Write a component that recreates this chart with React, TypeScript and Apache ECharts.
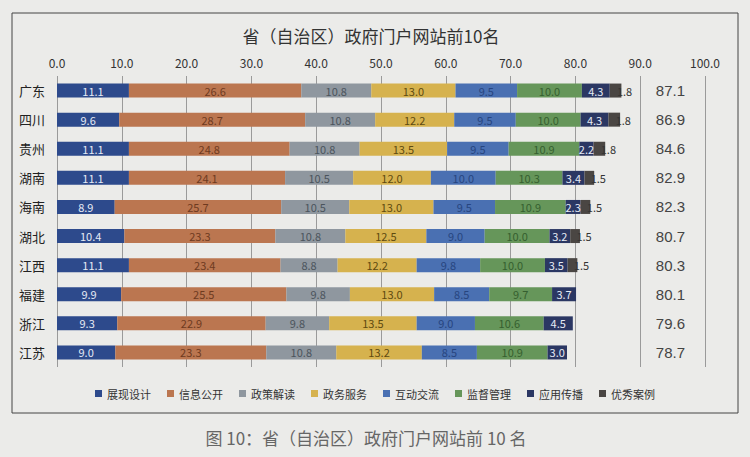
import React, { useEffect, useRef } from "react";
import * as echarts from "echarts";

const provinces = ["广东", "四川", "贵州", "湖南", "海南", "湖北", "江西", "福建", "浙江", "江苏"];
const seriesNames = ["展现设计", "信息公开", "政策解读", "政务服务", "互动交流", "监督管理", "应用传播", "优秀案例"];

const zhanxianSheji = [11.1, 9.6, 11.1, 11.1, 8.9, 10.4, 11.1, 9.9, 9.3, 9.0];
const xinxiGongkai = [26.6, 28.7, 24.8, 24.1, 25.7, 23.3, 23.4, 25.5, 22.9, 23.3];
const zhengceJiedu = [10.8, 10.8, 10.8, 10.5, 10.5, 10.8, 8.8, 9.8, 9.8, 10.8];
const zhengwuFuwu = [13.0, 12.2, 13.5, 12.0, 13.0, 12.5, 12.2, 13.0, 13.5, 13.2];
const hudongJiaoliu = [9.5, 9.5, 9.5, 10.0, 9.5, 9.0, 9.8, 8.5, 9.0, 8.5];
const jianduGuanli = [10.0, 10.0, 10.9, 10.3, 10.9, 10.0, 10.0, 9.7, 10.6, 10.9];
const yingyongChuanbo = [4.3, 4.3, 2.2, 3.4, 2.3, 3.2, 3.5, 3.7, 4.5, 3.0];
const youxiuAnli = [1.8, 1.8, 1.8, 1.5, 1.5, 1.5, 1.5, 0, 0, 0];
const totals = ["87.1", "86.9", "84.6", "82.9", "82.3", "80.7", "80.3", "80.1", "79.6", "78.7"];
const xTicks = [0, 10, 20, 30, 40, 50, 60, 70, 80, 90, 100];

const values = [zhanxianSheji, xinxiGongkai, zhengceJiedu, zhengwuFuwu, hudongJiaoliu, jianduGuanli, yingyongChuanbo, youxiuAnli];
const colors = ["#2d4a8c", "#bb7650", "#8f979f", "#d6b24e", "#4a70b2", "#66965a", "#2b3763", "#4a4643"];
const labelColors = ["#e6ebf5", "#6e3a1f", "#4b545c", "#5e4a10", "#27457f", "#355f2f", "#e6ebf5", "#333333"];

const FONT = "'Liberation Sans Narrow', 'Noto Sans CJK SC', sans-serif";
const CJK = "'Noto Sans CJK SC', sans-serif";

export default function App() {
  const ref = useRef<HTMLDivElement>(null);
  useEffect(() => {
    if (!ref.current) return;
    const chart = echarts.init(ref.current, undefined, { renderer: "svg" });
    const series: any[] = values.map((arr, i) => ({
      name: seriesNames[i],
      type: "bar",
      stack: "total",
      barWidth: 14,
      data: arr.map((v) => (v === 0 ? null : v)),
      itemStyle: { color: colors[i] },
      label: {
        show: true,
        position: "inside",
        offset: i === 7 ? [9, 0] : [0, 0],
        color: labelColors[i],
        fontSize: 11,
        fontFamily: FONT,
        formatter: (p: any) => (p.value ? p.value.toFixed(1) : ""),
      },
    }));
    chart.setOption({
      animation: false,
      backgroundColor: "#ebebe9",
      textStyle: { fontFamily: FONT },
      title: {
        text: "省（自治区）政府门户网站前10名",
        left: 366,
        textAlign: "center",
        top: 22,
        textStyle: { fontSize: 17, fontWeight: "normal", color: "#333", fontFamily: CJK },
      },
      legend: {
        data: seriesNames,
        top: 383,
        left: "center",
        icon: "rect",
        itemWidth: 7,
        itemHeight: 7,
        itemGap: 16,
        textStyle: { fontSize: 11, color: "#333", fontFamily: CJK },
      },
      grid: { left: 57, right: 45, top: 76, bottom: 90 },
      xAxis: {
        type: "value",
        position: "top",
        min: xTicks[0],
        max: xTicks[xTicks.length - 1],
        interval: 10,
        axisLine: { show: false },
        axisTick: { show: false },
        axisLabel: { color: "#333", fontSize: 12, margin: 8, formatter: (v: number) => v.toFixed(1) },
        splitLine: { show: true, lineStyle: { color: "#9a9a9a", width: 1 } },
      },
      yAxis: [
        {
          type: "category",
          data: provinces,
          inverse: true,
          axisLine: { show: false },
          axisTick: { show: false },
          axisLabel: { color: "#222", fontSize: 13, margin: 12, fontFamily: CJK },
        },
        {
          type: "category",
          data: totals,
          inverse: true,
          position: "right",
          axisLine: { show: false },
          axisTick: { show: false },
          axisLabel: { inside: true, color: "#444", fontSize: 15, margin: 20, fontFamily: "'Liberation Sans', sans-serif" },
        },
      ],
      graphic: [
        {
          type: "rect",
          shape: { x: 12, y: 13, width: 726, height: 400 },
          style: { fill: "none", stroke: "#444", lineWidth: 1 },
          silent: true,
        },
        {
          type: "text",
          x: 366,
          y: 437,
          style: {
            text: "图 10：省（自治区）政府门户网站前 10 名",
            fill: "#666",
            fontSize: 17,
            fontFamily: CJK,
            textAlign: "center",
            textVerticalAlign: "middle",
          },
        },
      ],
      series,
    });
    return () => chart.dispose();
  }, []);
  return <div ref={ref} style={{ position: "fixed", left: 0, top: 0, width: 750, height: 457 }} />;
}
